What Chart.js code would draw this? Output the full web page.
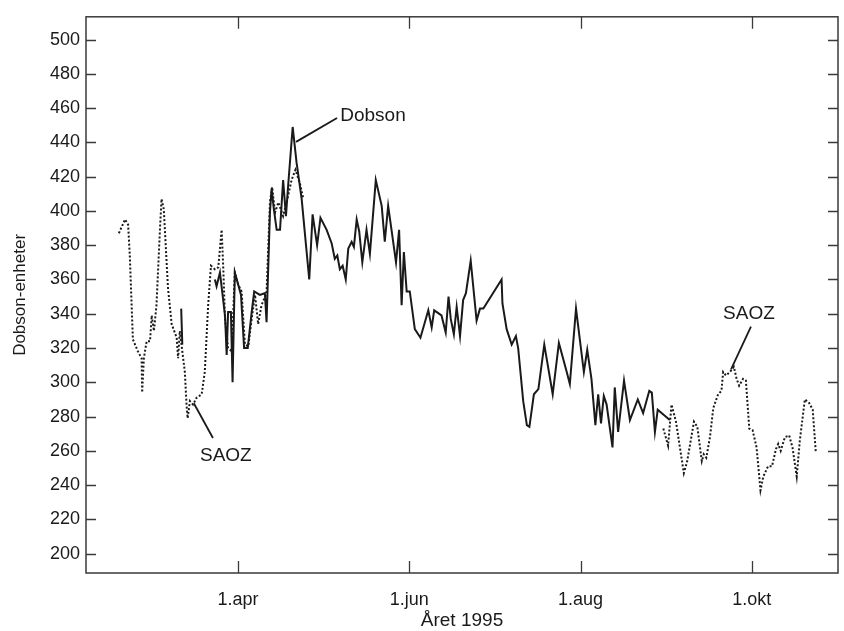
<!DOCTYPE html>
<html>
<head>
<meta charset="utf-8">
<title>Dobson / SAOZ 1995</title>
<script src="https://cdn.jsdelivr.net/npm/chart.js@4"></script>
<style>
  html, body { margin: 0; padding: 0; background: #fff; }
  #wrap { width: 844px; height: 631px; }
</style>
</head>
<body>
<div id="wrap"><canvas id="ozoneChart" width="844" height="631"></canvas></div>
<script>
// Dag i året (1995) og målte verdier
const saozDays = [48.6, 50.8, 51.9, 52.5, 53.6, 55.4, 56.7, 56.9, 57.5, 58.5,
    59.7, 60.3, 61.1, 62.0, 63.2, 63.8, 64.6, 66.1, 67.4, 69.2,
    69.7, 70.3, 72.1, 72.7, 73.1, 73.9, 75.0, 76.3, 78.1, 79.2,
    80.4, 81.4, 82.8, 84.0, 85.2, 85.8, 86.4, 87.5, 88.8, 89.9,
    91.1, 92.3, 93.5, 94.7, 95.9, 97.1, 98.2, 99.4, 101.2, 102.4,
    103.2, 104.2, 105.4, 107.1, 108.9, 110.1, 111.5, 113.1, 114.3,
    180,
    242.5, 244.2, 245.4, 247.0, 248.4, 249.8, 251.0, 253.4, 254.6, 256.2,
    256.9, 257.8, 259.1, 260.3, 262.0, 263.2, 263.8, 264.8, 266.2, 267.6,
    268.6, 269.5, 270.9, 271.9, 273.1, 274.3, 275.7, 277.1, 278.1, 279.8,
    281.2, 282.6, 283.4, 284.3, 285.8, 287.3, 288.5, 290.0, 291.1, 292.9,
    294.4, 295.7, 296.8];
const saozValues = [387, 395, 392, 374, 325, 318, 314, 294, 314, 324,
    324, 339, 330, 345, 388, 407, 401, 355, 334, 326,
    314, 330, 306, 287, 279, 289, 287, 291, 293, 306,
    345, 368, 366, 367, 389, 366, 337, 320, 318, 364,
    357, 353, 322, 321, 337, 351, 334, 345, 352, 405,
    414, 399, 405, 397, 409, 418, 424, 416, 407,
    null,
    273, 263, 287, 277, 262, 247, 254, 277, 274, 254,
    258, 256, 268, 285, 293, 295, 306, 304, 306, 309,
    302, 298, 302, 301, 273, 272, 262, 237, 245, 251,
    251, 261, 264, 260, 268, 269, 262, 245, 266, 290,
    288, 284, 259];

const dobsonDays = [70.8, 71.2, 76,
    82.8, 83.4, 84.6, 86.4, 87.0, 87.5, 88.5, 89.1, 89.9, 91.1, 92.1,
    93.2, 94.5, 95.9, 96.8, 98.8, 100.6, 101.2, 102.4, 103.0, 103.8,
    104.8, 106.0, 107.1, 108.1, 108.9, 110.5, 111.9, 113.7, 114.9, 116.4,
    117.6, 119.2, 120.4, 122.6, 124.4, 125.5, 126.4, 127.3, 128.3, 129.4,
    130.3, 131.5, 132.3, 133.3, 134.2, 135.3, 136.8, 138.0, 140.1, 142.2,
    143.3, 144.5, 145.7, 147.3, 148.4, 149.3, 150.1, 151.1, 152.2, 154.0,
    156.0, 158.8, 160.0, 160.9, 163.5, 165.0, 166.0, 166.8, 167.9, 168.9,
    170.1, 171.2, 172.2, 173.9, 176.0, 177.2, 178.4, 184.9, 185.2, 186.7,
    188.5, 190.0, 190.8, 192.6, 193.9, 194.8, 196.4, 198.0, 200.1, 203.1,
    205.3, 208.1, 209.2, 211.4, 214.2, 215.4, 216.9, 218.3, 219.3, 220.3,
    221.3, 222.3, 224.4, 225.2, 226.4, 228.5, 230.6, 233.4, 235.3, 237.5,
    238.4, 239.5, 240.5, 244.8];
const dobsonValues = [343, 322, null,
    360, 356, 364, 339, 316, 341, 341, 300, 364, 357, 351,
    320, 320, 341, 353, 351, 352, 335, 399, 413, 401,
    389, 389, 418, 397, 415, 449, 428, 407, 386, 360,
    398, 380, 396, 389, 381, 372, 374, 366, 368, 360,
    378, 382, 379, 395, 388, 370, 389, 375, 418, 403,
    382, 403, 389, 370, 389, 345, 376, 353, 353, 331,
    326, 342, 332, 342, 339, 329, 350, 337, 328, 344,
    327, 348, 352, 371, 336, 343, 343, 360, 346, 331,
    322, 327, 320, 289, 275, 274, 293, 296, 322, 293,
    323, 306, 299, 343, 306, 319, 302, 275, 293, 276,
    292, 287, 262, 297, 271, 301, 278, 290, 282, 295,
    294, 271, 284, 278];

// Akser
const xTickDays = [91, 152, 213, 274];
const xTickLabels = ['1.apr', '1.jun', '1.aug', '1.okt'];
const yTickValues = [200, 220, 240, 260, 280, 300, 320, 340, 360, 380, 400, 420, 440, 460, 480, 500];

// Tekst med strek inn mot kurvene (dag, verdi)
const labelTexts = ['Dobson', 'SAOZ', 'SAOZ'];
const labelAt = [[139.1, 455.4], [86.7, 257.1], [273.0, 340.0]];
const leaderFrom = [[111.7, 440.3], [75.3, 287.8], [266.6, 307.5]];
const leaderTo = [[126.3, 454.2], [82.1, 267.5], [273.7, 332.5]];

const ink = '#1a1a1a';
const fontFamily = '"Liberation Sans", Arial, Helvetica, sans-serif';

function toPoints(days, values) {
    return days.map((d, i) => ({ x: d, y: values[i] }));
}

// Ramme, innvendige tick-merker og merkelapper
const framePlugin = {
    id: 'framePlugin',
    afterDraw(chart) {
        const { ctx, chartArea: a, scales: { x, y } } = chart;
        ctx.save();
        ctx.strokeStyle = '#3a3a3a';
        ctx.lineWidth = 1.5;
        ctx.strokeRect(a.left, a.top, a.right - a.left, a.bottom - a.top);

        ctx.lineWidth = 1.3;
        ctx.beginPath();
        yTickValues.forEach(v => {
            const py = Math.round(y.getPixelForValue(v)) + 0.5;
            ctx.moveTo(a.left, py);
            ctx.lineTo(a.left + 10, py);
            ctx.moveTo(a.right, py);
            ctx.lineTo(a.right - 10, py);
        });
        xTickDays.forEach(d => {
            const px = Math.round(x.getPixelForValue(d)) + 0.5;
            ctx.moveTo(px, a.bottom);
            ctx.lineTo(px, a.bottom - 12);
            ctx.moveTo(px, a.top);
            ctx.lineTo(px, a.top + 12);
        });
        ctx.stroke();

        ctx.strokeStyle = ink;
        ctx.lineWidth = 1.8;
        ctx.fillStyle = ink;
        ctx.font = '19px ' + fontFamily;
        ctx.textAlign = 'center';
        ctx.textBaseline = 'middle';
        labelTexts.forEach((t, i) => {
            ctx.beginPath();
            ctx.moveTo(x.getPixelForValue(leaderFrom[i][0]), y.getPixelForValue(leaderFrom[i][1]));
            ctx.lineTo(x.getPixelForValue(leaderTo[i][0]), y.getPixelForValue(leaderTo[i][1]));
            ctx.stroke();
            ctx.fillText(t, x.getPixelForValue(labelAt[i][0]), y.getPixelForValue(labelAt[i][1]));
        });
        ctx.restore();
    }
};

function initializeChart() {
    const ctx = document.getElementById('ozoneChart').getContext('2d');
    new Chart(ctx, {
        type: 'line',
        data: {
            datasets: [{
                label: 'SAOZ',
                data: toPoints(saozDays, saozValues),
                borderColor: ink,
                borderWidth: 2,
                borderDash: [2, 2],
                pointRadius: 0,
                tension: 0,
                spanGaps: false
            }, {
                label: 'Dobson',
                data: toPoints(dobsonDays, dobsonValues),
                borderColor: ink,
                borderWidth: 2,
                pointRadius: 0,
                tension: 0,
                spanGaps: false
            }]
        },
        options: {
            responsive: false,
            animation: false,
            layout: { padding: { top: 13, right: 6, left: 0, bottom: 0 } },
            plugins: {
                legend: { display: false },
                tooltip: { enabled: false }
            },
            scales: {
                x: {
                    type: 'linear',
                    min: 36.9,
                    max: 304.7,
                    grid: { display: false, drawTicks: false },
                    border: { display: false },
                    afterBuildTicks: axis => {
                        axis.ticks = xTickDays.map(v => ({ value: v }));
                    },
                    afterFit: axis => { axis.height = 58; },
                    ticks: {
                        padding: 16,
                        maxRotation: 0,
                        autoSkip: false,
                        color: ink,
                        font: { family: fontFamily, size: 18 },
                        callback: v => xTickLabels[xTickDays.indexOf(v)]
                    },
                    title: {
                        display: true,
                        text: 'Året 1995',
                        color: ink,
                        font: { family: fontFamily, size: 19, lineHeight: 1 },
                        padding: { top: 0, bottom: 1 }
                    }
                },
                y: {
                    min: 188.7,
                    max: 513.3,
                    grid: { display: false, drawTicks: false },
                    border: { display: false },
                    afterBuildTicks: axis => {
                        axis.ticks = yTickValues.map(v => ({ value: v }));
                    },
                    afterFit: axis => { axis.width = 86; },
                    ticks: {
                        padding: 6,
                        color: ink,
                        font: { family: fontFamily, size: 18 }
                    },
                    title: {
                        display: true,
                        text: 'Dobson-enheter',
                        color: ink,
                        font: { family: fontFamily, size: 17 },
                        padding: { top: 10, bottom: 0 }
                    }
                }
            }
        },
        plugins: [framePlugin]
    });
}

document.addEventListener('DOMContentLoaded', initializeChart);
</script>
</body>
</html>
